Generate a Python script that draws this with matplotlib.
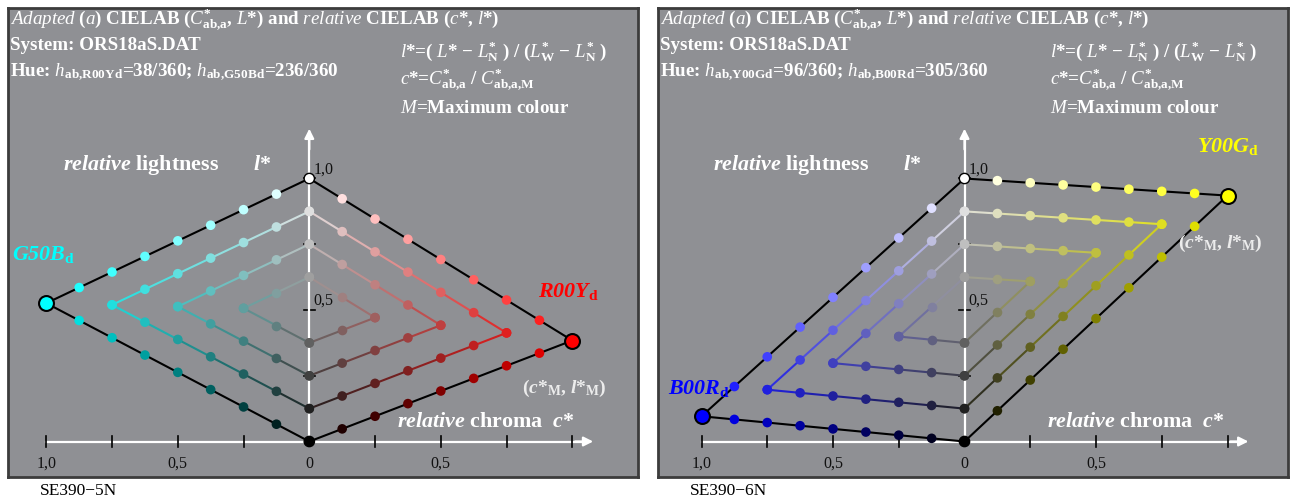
import matplotlib
matplotlib.use("Agg")
import matplotlib.pyplot as plt
import numpy as np

plt.rcParams['font.family'] = ['Liberation Serif', 'DejaVu Serif']
plt.rcParams['mathtext.fontset'] = 'custom'
plt.rcParams['mathtext.rm'] = 'Liberation Serif:bold'
plt.rcParams['mathtext.bf'] = 'Liberation Serif:bold'
plt.rcParams['mathtext.it'] = 'Liberation Serif:italic'
plt.rcParams['mathtext.bfit'] = 'Liberation Serif:italic:bold'

# data
codes = ["SE390\u22125N", "SE390\u22126N"]
hue_right = ["R00Y", "Y00G"]          # hue drawn on +c* side
hue_left = ["G50B", "B00R"]           # hue drawn on -c* side
hab_right = [38, 96]
hab_left = [236, 305]
lm_right = [0.384, 0.935]             # relative lightness l*_M of max colour
lm_left = [0.526, 0.096]
rgb_right = [(1.0, 0.0, 0.0), (1.0, 1.0, 0.0)]
rgb_left = [(0.0, 1.0, 1.0), (0.0, 0.0, 1.0)]
lab_col_right = ['#ff0000', '#ffff00']
lab_col_left = ['#00ffff', '#0000ff']
xtick_vals = [-1.0, -0.75, -0.5, -0.25, 0.25, 0.5, 0.75, 1.0]
xtick_lab_vals = [-1.0, -0.5, 0.0, 0.5]
xtick_labels = ["1,0", "0,5", "0", "0,5"]
ytick_vals = [0.25, 0.5, 0.75, 1.0]
steps = 8

W, H = 1294, 499
panel_x = [8, 658]
origin_x = [309.3, 964.5]
PW, PH = 630, 469
scale = 263.0
y0 = 441.5
grey = '#8f9094'

fig = plt.figure(figsize=(W / 100, H / 100), dpi=100)


def ftxt(x, y, s, **kw):
    kw.setdefault('color', 'white')
    kw.setdefault('fontweight', 'bold')
    kw.setdefault('va', 'baseline')
    fig.text(x / W, 1 - y / H, s, **kw)


def mix(a, m, rgb):
    return tuple(min(1.0, a + m * c) for c in rgb)


def draw_hue(ax, side, lm, rgb):
    M = np.array([side, lm])
    Wp = np.array([0.0, 1.0])
    for k in range(1, 5):
        for upper in (True, False):
            fixed = (4 - k) / steps
            pts, cols = [], []
            for j in range(2 * k + 1):
                m = j / steps
                if upper:
                    a = 1 - fixed - m
                else:
                    a = fixed
                pts.append(a * Wp + m * M)
                cols.append(mix(a, m, rgb))
            pts = np.array(pts)
            if k == 4:
                ax.plot(pts[:, 0], pts[:, 1], color='black', lw=1.5, zorder=3)
            else:
                for i in range(len(pts) - 1):
                    c = tuple((np.array(cols[i]) + np.array(cols[i + 1])) / 2)
                    ax.plot(pts[i:i + 2, 0], pts[i:i + 2, 1], color=c, lw=1.5, zorder=3)
            ax.scatter(pts[1:-1, 0], pts[1:-1, 1], s=48, c=cols[1:-1], lw=0, zorder=4)
            if k != 4:
                ax.scatter(pts[[0, -1], 0], pts[[0, -1], 1], s=48, c=[cols[0], cols[-1]], lw=0, zorder=4)
    ax.scatter([M[0]], [M[1]], s=115, c=[rgb], edgecolors='black', linewidths=1.5, zorder=6)


HDR = 13.7
LBL = 15.8
for p in range(2):
    left = panel_x[p]
    ax = fig.add_axes([left / W, (H - 8 - PH) / H, PW / W, PH / H])
    ox = origin_x[p]
    ax.set_xlim((left - ox) / scale, (left + PW - ox) / scale)
    ax.set_ylim((y0 - (8 + PH)) / scale, (y0 - 8) / scale)
    ax.set_facecolor(grey)
    ax.set_xticks([])
    ax.set_yticks([])
    for s in ax.spines.values():
        s.set_color('#3c3c3c')
        s.set_linewidth(2)

    # axes with arrows
    ax.plot([-1.0, 1.06], [0, 0], color='white', lw=1.6, zorder=2)
    ax.plot([0, 0], [0, 1.17], color='white', lw=1.6, zorder=2)
    ax.annotate('', xy=(1.09, 0), xytext=(1.0, 0),
                arrowprops=dict(arrowstyle='-|>', color='white', lw=1.6, mutation_scale=14), zorder=2)
    ax.annotate('', xy=(0, 1.2), xytext=(0, 1.1),
                arrowprops=dict(arrowstyle='-|>', color='white', lw=1.6, mutation_scale=14), zorder=2)
    for v in xtick_vals:
        ax.plot([v, v], [-0.02, 0.02], color='black', lw=1.2, zorder=2.5)
    for v in ytick_vals:
        ax.plot([-0.022, 0.022], [v, v], color='black', lw=1.2, zorder=1.5)

    draw_hue(ax, 1, lm_right[p], rgb_right[p])
    draw_hue(ax, -1, lm_left[p], rgb_left[p])
    ax.scatter([0, 0], [0, 1], s=55, c=['black', 'white'], edgecolors='black', linewidths=1.0, zorder=6)

    for v, t in zip(xtick_lab_vals, xtick_labels):
        ax.text(v, -0.1, t, ha='center', va='baseline', fontsize=11.5, color='#111111')
    ax.text(0.015, 1.02, "1,0", fontsize=11.5, color='#111111', va='baseline')
    ax.text(0.015, 0.52, "0,5", fontsize=11.5, color='#111111', va='baseline')

    dx = left - 8
    ftxt(10 + dx, 25, r"$\mathit{Adapted\ (a)}$ CIELAB ($\mathit{C}^{*}_{\mathrm{ab{,}a}}$, $\mathit{L}{*}$) and "
                      r"$\mathit{relative}$ CIELAB ($\mathit{c}{*}$, $\mathit{l}{*}$)", fontsize=HDR)
    ftxt(10 + dx, 50, "System: ORS18aS.DAT", fontsize=HDR)
    ftxt(10 + dx, 76, r"Hue: $\mathit{h}_{\mathrm{ab{,}%sd}}$=%d/360; $\mathit{h}_{\mathrm{ab{,}%sd}}$=%d/360"
         % (hue_right[p], hab_right[p], hue_left[p], hab_left[p]), fontsize=HDR)
    ftxt(400 + dx, 57, r"$\mathit{l}{*}$=( $\mathit{L}{*}$ $-$ $\mathit{L}^{*}_{\mathrm{N}}$ ) / "
                       r"($\mathit{L}^{*}_{\mathrm{W}}$ $-$ $\mathit{L}^{*}_{\mathrm{N}}$ )", fontsize=HDR)
    ftxt(400 + dx, 85, r"$\mathit{c}{*}$=$\mathit{C}^{*}_{\mathrm{ab{,}a}}$ / $\mathit{C}^{*}_{\mathrm{ab{,}a{,}M}}$",
         fontsize=HDR)
    ftxt(400 + dx, 113, r"$\mathit{M}$=Maximum colour", fontsize=HDR)

    ftxt(63 + dx, 170, r"$\mathbfit{relative}$ lightness", fontsize=LBL)
    ftxt(253 + dx, 170, r"$\mathbfit{l}{*}$", fontsize=LBL)
    ftxt(397 + dx, 427, r"$\mathbfit{relative}$ chroma  $\mathbfit{c}{*}$", fontsize=LBL)
    ftxt(40 + dx, 495, codes[p], fontsize=12.5, color='black', fontweight='normal')

ftxt(538, 297, r"$\mathbfit{%s}_{\mathrm{d}}$" % hue_right[0], fontsize=LBL, color=lab_col_right[0])
ftxt(12, 260, r"$\mathbfit{%s}_{\mathrm{d}}$" % hue_left[0], fontsize=LBL, color=lab_col_left[0])
ftxt(1197, 152, r"$\mathbfit{%s}_{\mathrm{d}}$" % hue_right[1], fontsize=LBL, color=lab_col_right[1])
ftxt(668, 394, r"$\mathbfit{%s}_{\mathrm{d}}$" % hue_left[1], fontsize=LBL, color=lab_col_left[1])
cm_lab = r"($\mathbfit{c}{*}_{\mathrm{M}}$, $\mathbfit{l}{*}_{\mathrm{M}}$)"
ftxt(522, 393, cm_lab, fontsize=14, color='#ececec')
ftxt(1178, 248, cm_lab, fontsize=14, color='#ececec')

fig.savefig("out.png", dpi=100)
